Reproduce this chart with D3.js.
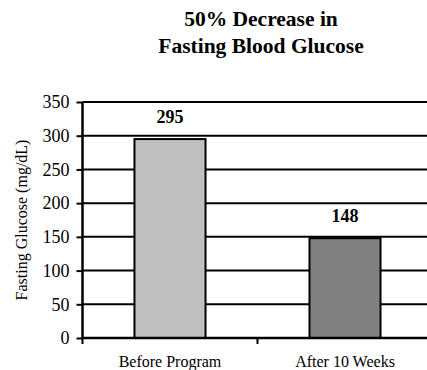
<!DOCTYPE html>
<html>
<head>
<meta charset="utf-8">
<script src="https://cdn.jsdelivr.net/npm/d3@7"></script>
</head>
<body style="margin:0;padding:0;background:#fff">
<script>
// Fasting glucose before and after the program
const categories = ["Before Program", "After 10 Weeks"];
const glucoseValues = [295, 148];
const barColors = ["#c0c0c0", "#808080"];
const yTickValues = [0, 50, 100, 150, 200, 250, 300, 350];
const titleLines = ["50% Decrease in", "Fasting Blood Glucose"];
const yAxisTitle = "Fasting Glucose (mg/dL)";

const FONT = "Liberation Serif";
const width = 427, height = 370;
const svg = d3.select("body").append("svg")
  .attr("width", width).attr("height", height)
  .style("display", "block");

const x = d3.scaleBand()
  .domain(categories)
  .range([82.5, 432.5])
  .paddingInner(0.594)
  .paddingOuter(0.297);

const y = d3.scaleLinear().domain([0, 350]).range([338, 102]);

// Title
svg.append("g").selectAll("text")
  .data(titleLines)
  .join("text")
  .attr("x", 261)
  .attr("y", (d, i) => 26 + i * 27)
  .attr("text-anchor", "middle")
  .attr("font-family", FONT)
  .attr("font-size", 21.5)
  .attr("font-weight", "bold")
  .text(d => d);

// Horizontal gridlines
svg.append("g").selectAll("line")
  .data(yTickValues.filter(v => v > 0))
  .join("line")
  .attr("x1", 82.5).attr("x2", width + 10)
  .attr("y1", d => y(d)).attr("y2", d => y(d))
  .attr("stroke", "#000").attr("stroke-width", 2);

// Bars
svg.append("g").selectAll("rect")
  .data(glucoseValues)
  .join("rect")
  .attr("x", (d, i) => x(categories[i]))
  .attr("width", x.bandwidth())
  .attr("y", d => y(d))
  .attr("height", d => y(0) - y(d))
  .attr("fill", (d, i) => barColors[i])
  .attr("stroke", "#000")
  .attr("stroke-width", 2);

// Value labels
svg.append("g").selectAll("text")
  .data(glucoseValues)
  .join("text")
  .attr("x", (d, i) => x(categories[i]) + x.bandwidth() / 2)
  .attr("y", d => y(d) - 16)
  .attr("text-anchor", "middle")
  .attr("font-family", FONT)
  .attr("font-size", 18)
  .attr("font-weight", "bold")
  .text(d => d);

// Y axis
const yAxis = d3.axisLeft(y)
  .tickValues(yTickValues)
  .tickSize(6)
  .tickPadding(7)
  .tickSizeOuter(0);
const gy = svg.append("g")
  .attr("transform", "translate(82.5,0)")
  .call(yAxis)
  .attr("font-family", FONT)
  .attr("font-size", 18);
gy.select(".domain").attr("stroke-width", 2.5).attr("d", "M0,338V102");
gy.selectAll(".tick line").attr("stroke-width", 2);
gy.selectAll(".tick text").attr("fill", "#000");

// X axis baseline with ticks at category boundaries
svg.append("line")
  .attr("x1", 82.5).attr("x2", width + 10)
  .attr("y1", y(0)).attr("y2", y(0))
  .attr("stroke", "#000").attr("stroke-width", 2.5);
const boundaries = [x.range()[0], (x(categories[0]) + x(categories[1]) + x.bandwidth()) / 2];
svg.append("g").selectAll("line")
  .data(boundaries)
  .join("line")
  .attr("x1", d => d).attr("x2", d => d)
  .attr("y1", y(0)).attr("y2", y(0) + 6)
  .attr("stroke", "#000").attr("stroke-width", 2);

// Category labels
svg.append("g").selectAll("text")
  .data(categories)
  .join("text")
  .attr("x", d => x(d) + x.bandwidth() / 2)
  .attr("y", 367)
  .attr("text-anchor", "middle")
  .attr("font-family", FONT)
  .attr("font-size", 16)
  .text(d => d);

// Y axis title
svg.append("text")
  .attr("transform", `translate(27,${(y(0) + y(350)) / 2}) rotate(-90)`)
  .attr("text-anchor", "middle")
  .attr("font-family", FONT)
  .attr("font-size", 16)
  .text(yAxisTitle);
</script>
</body>
</html>
